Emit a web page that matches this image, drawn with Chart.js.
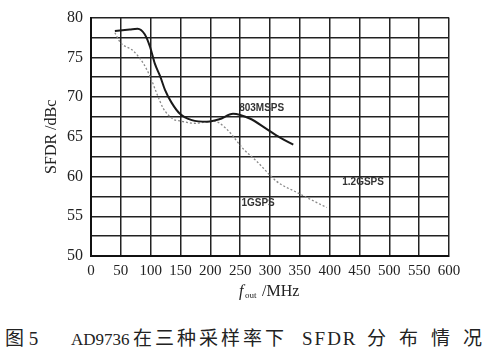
<!DOCTYPE html>
<html>
<head>
<meta charset="utf-8">
<script src="https://cdn.jsdelivr.net/npm/chart.js@4"></script>
<style>
  body { margin: 0; background: #fff; }
  #wrap { position: relative; width: 500px; height: 356px; }
  #box { position: absolute; left: 0; top: 0; width: 500px; height: 310px; }
  #cap { position: absolute; left: 5px; top: 323px; font-size: 19px; color: #222; white-space: pre;
         font-family: "Liberation Serif", "Noto Sans CJK SC", serif; }
  #cap span { display: inline-block; }
</style>
</head>
<body>
<div id="wrap">
  <div id="box"><canvas id="myChart"></canvas></div>
  <div id="cap"><span style="width:66px">图 5</span><span style="width:62px;font-size:17px">AD9736</span><span style="width:169px;letter-spacing:3px">在三种采样率下</span><span style="width:65px;letter-spacing:2px">SFDR</span><span style="letter-spacing:13px">分布情况</span></div>
</div>
<script>
// values
var freq800 = [40, 65, 78, 90, 99, 107, 116, 124, 135, 149, 169, 195, 215, 238, 266, 294, 317, 339];
var sfdr800 = [78.3, 78.5, 78.6, 77.9, 76.3, 74.2, 72.6, 70.9, 69.3, 67.9, 67.1, 66.9, 67.2, 67.9, 67.3, 66.0, 64.9, 64.0];
var freq1G = [40, 49, 71, 88, 99, 110, 121, 138, 149, 175, 205, 227, 255, 278, 311, 345, 395];
var sfdr1G = [78.1, 76.9, 75.8, 74.2, 72.6, 70.5, 68.6, 67.2, 67.0, 66.7, 67.0, 66.0, 63.5, 61.9, 59.4, 58.0, 56.1];

// curve labels: text, x, y (data units)
var curveLabels = [['803MSPS', 286, 68.6], ['1GSPS', 280, 56.7], ['1.2GSPS', 456, 59.3]];

function pts(xs, ys) {
  return xs.map(function (x, i) { return {x: x, y: ys[i]}; });
}

var serif = '"Liberation Serif", "DejaVu Serif", serif';

var labelPlugin = {
  id: 'curveLabels',
  afterDatasetsDraw: function (chart) {
    var c = chart.ctx, xs = chart.scales.x, ys = chart.scales.y;
    c.save();
    c.font = 'bold 10px "Liberation Sans", Arial, sans-serif';
    c.fillStyle = '#333';
    c.textAlign = 'center';
    c.textBaseline = 'middle';
    curveLabels.forEach(function (l) {
      c.fillText(l[0], xs.getPixelForValue(l[1]), ys.getPixelForValue(l[2]));
    });
    // x axis title with subscript
    var cx = 239, cy = 292;
    c.fillStyle = '#222';
    c.textAlign = 'left';
    c.font = 'italic 16px ' + serif;
    c.fillText('f', cx, cy);
    c.font = '9px ' + serif;
    c.fillText('out', cx + 6, cy + 4);
    c.font = '16px ' + serif;
    c.fillText(' /MHz', cx + 19, cy);
    c.restore();
  }
};

var ctx = document.getElementById('myChart').getContext('2d');
var chart = new Chart(ctx, {
  type: 'line',
  data: {
    datasets: [{
      label: '800MSPS',
      data: pts(freq800, sfdr800),
      borderColor: '#1a1a1a',
      borderWidth: 2,
      pointRadius: 0,
      cubicInterpolationMode: 'monotone'
    }, {
      label: '1GSPS',
      data: pts(freq1G, sfdr1G),
      borderColor: '#8a8a8a',
      borderWidth: 1.3,
      borderDash: [2, 2],
      pointRadius: 0,
      cubicInterpolationMode: 'monotone'
    }]
  },
  plugins: [labelPlugin],
  options: {
    responsive: true,
    maintainAspectRatio: false,
    animation: false,
    layout: { padding: { left: 0, right: 51, top: 13, bottom: 0 } },
    plugins: { legend: { display: false }, tooltip: { enabled: false } },
    scales: {
      x: {
        type: 'linear',
        min: 0, max: 600,
        border: { color: '#111', width: 2 },
        grid: { color: '#222', lineWidth: 1.5, drawTicks: false },
        ticks: { stepSize: 50, padding: 6, color: '#222', maxRotation: 0, autoSkip: false,
                 font: { family: serif, size: 15 } },
        afterFit: function (s) { s.height = 54; }
      },
      y: {
        min: 50, max: 80,
        border: { color: '#111', width: 2 },
        grid: { color: '#222', lineWidth: 1.5, drawTicks: false },
        ticks: { stepSize: 2.5, padding: 8, color: '#222', autoSkip: false,
                 font: { family: serif, size: 16 },
                 callback: function (v) { return v % 5 === 0 ? v : ''; } },
        title: { display: true, text: 'SFDR /dBc', color: '#222',
                 font: { family: serif, size: 16 }, padding: { top: 42, bottom: 0 } },
        afterFit: function (s) { s.width = 91; }
      }
    }
  }
});
</script>
</body>
</html>
